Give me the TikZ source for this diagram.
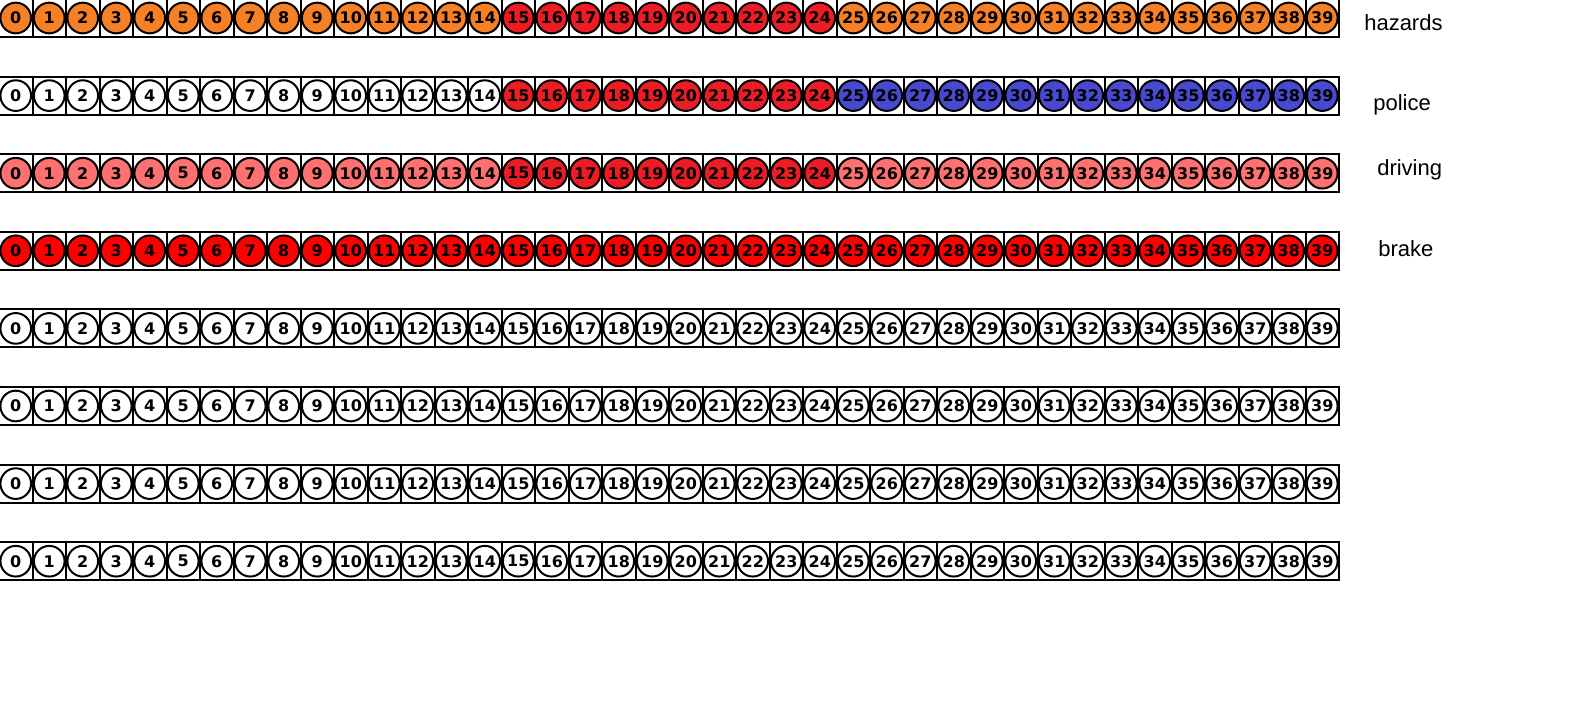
\documentclass[tikz,border=0pt]{standalone}
\usepackage{fontspec}
\setmainfont{Liberation Sans}
\newfontfamily\numfont{DejaVu Sans}
\definecolor{horange}{RGB}{245,128,37}
\definecolor{dred}{RGB}{237,28,36}
\definecolor{pblue}{RGB}{72,72,208}
\definecolor{salmon}{RGB}{255,112,112}
\definecolor{bred}{RGB}{255,0,0}
\colorlet{r0a}{horange}\colorlet{r0b}{dred}\colorlet{r0c}{horange}
\colorlet{r1a}{white}\colorlet{r1b}{dred}\colorlet{r1c}{pblue}
\colorlet{r2a}{salmon}\colorlet{r2b}{dred}\colorlet{r2c}{salmon}
\colorlet{r3a}{bred}\colorlet{r3b}{bred}\colorlet{r3c}{bred}
\colorlet{r4a}{white}\colorlet{r4b}{white}\colorlet{r4c}{white}
\colorlet{r5a}{white}\colorlet{r5b}{white}\colorlet{r5c}{white}
\colorlet{r6a}{white}\colorlet{r6b}{white}\colorlet{r6c}{white}
\colorlet{r7a}{white}\colorlet{r7b}{white}\colorlet{r7c}{white}
\begin{document}
\begin{tikzpicture}[x=0.75pt,y=-0.75pt,
  cellbox/.style={draw=black,line width=1.5pt,fill=white,minimum width=25.125pt,minimum height=28.5pt,inner sep=0pt,outer sep=0pt},
  ledcirc/.style={circle,draw=black,line width=1.5pt,minimum size=23pt,inner sep=0pt,font=\numfont\bfseries\fontsize{12pt}{12pt}\selectfont},
  rowlabel/.style={anchor=base west,inner sep=0pt,font=\fontsize{16.5pt}{18pt}\selectfont}]
\useasboundingbox (0,0) rectangle (1591,707);
\foreach \r in {0,...,7}{
  \foreach \i in {0,...,39}{
    \ifnum\i<15 \def\zone{a}\else\ifnum\i<25 \def\zone{b}\else\def\zone{c}\fi\fi
    \node[cellbox] (cell-\r-\i) at ({15.75+33.5*\i},{18+77.6*\r}) {};
    \node[ledcirc,fill=r\r\zone] (led-\r-\i) at (cell-\r-\i.center) {\i};
  }
}
\node[rowlabel] (lab-hazards) at (1364,30) {hazards};
\node[rowlabel] (lab-police) at (1373,110) {police};
\node[rowlabel] (lab-driving) at (1377,175) {driving};
\node[rowlabel] (lab-brake) at (1378,256) {brake};
\end{tikzpicture}
\end{document}
